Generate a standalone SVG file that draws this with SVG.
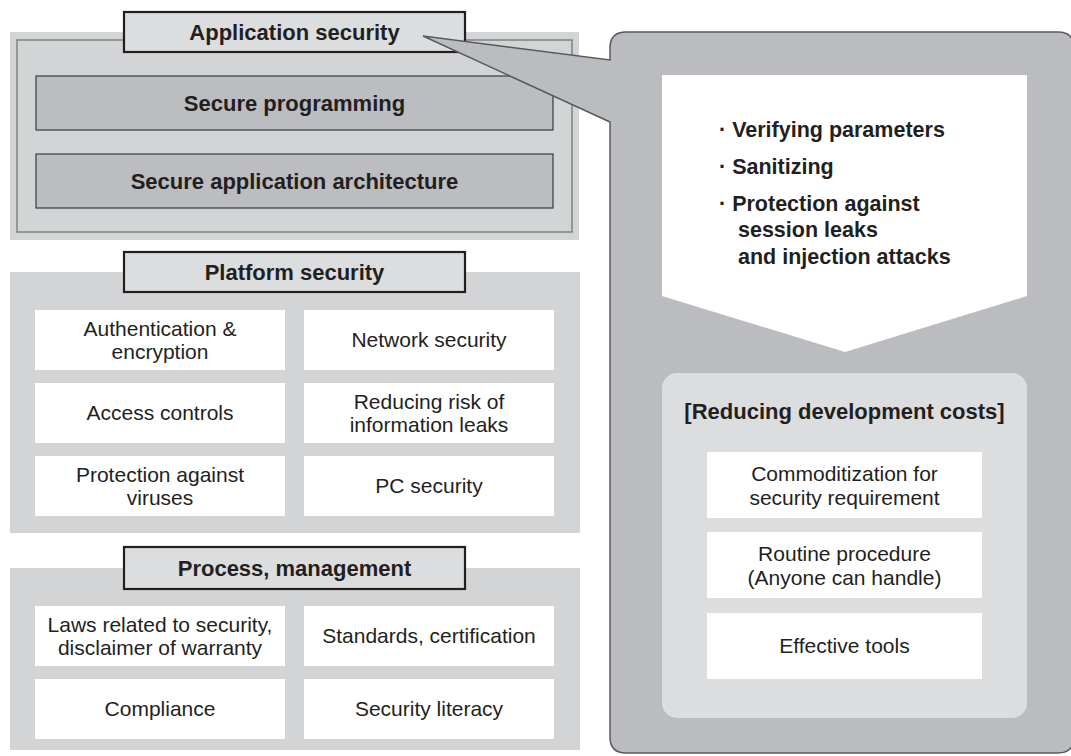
<svg xmlns="http://www.w3.org/2000/svg" width="1071" height="756" viewBox="0 0 1071 756">
<style>
text{font-family:"Liberation Sans",Arial,Helvetica,sans-serif;fill:#231f20;text-anchor:middle}
.b{font-weight:bold;font-size:22px}
.r{font-size:21px}
.bl{font-weight:bold;font-size:21.5px;text-anchor:start}
.band{fill:#d3d4d6}
.title{fill:#dcdddf;stroke:#231f20;stroke-width:2.2}
.dark{fill:#bcbdc0;stroke:#3a3a3a;stroke-width:1.2}
.cell{fill:#ffffff}
</style>
<rect width="1071" height="756" fill="#ffffff"/>

<g id="application-security">
<rect class="band" x="10" y="32" width="569" height="208"/>
<rect x="17" y="40" width="555" height="192" fill="#d3d4d6" stroke="#808080" stroke-width="1.5"/>
<g id="secure-programming">
<rect class="dark" x="36" y="76" width="517" height="54"/>
<text class="b" x="294.5" y="111">Secure programming</text>
</g>
<g id="secure-architecture">
<rect class="dark" x="36" y="154" width="517" height="54"/>
<text class="b" x="294.5" y="189">Secure application architecture</text>
</g>
<g id="app-title">
<rect class="title" x="124" y="12" width="341" height="40"/>
<text class="b" x="294.5" y="40">Application security</text>
</g>
</g>

<g id="platform-security">
<rect class="band" x="10" y="272" width="570" height="261"/>
<g id="platform-title">
<rect class="title" x="124" y="252" width="341" height="40"/>
<text class="b" x="294.5" y="280">Platform security</text>
</g>
<g id="auth">
<rect class="cell" x="35" y="310" width="250" height="60"/>
<text class="r" x="160" y="336">Authentication &amp;</text>
<text class="r" x="160" y="359">encryption</text>
</g>
<g id="network">
<rect class="cell" x="304" y="310" width="250" height="60"/>
<text class="r" x="429" y="347">Network security</text>
</g>
<g id="access">
<rect class="cell" x="35" y="383" width="250" height="60"/>
<text class="r" x="160" y="420">Access controls</text>
</g>
<g id="leaks">
<rect class="cell" x="304" y="383" width="250" height="60"/>
<text class="r" x="429" y="409">Reducing risk of</text>
<text class="r" x="429" y="432">information leaks</text>
</g>
<g id="viruses">
<rect class="cell" x="35" y="456" width="250" height="60"/>
<text class="r" x="160" y="482">Protection against</text>
<text class="r" x="160" y="505">viruses</text>
</g>
<g id="pc">
<rect class="cell" x="304" y="456" width="250" height="60"/>
<text class="r" x="429" y="493">PC security</text>
</g>
</g>

<g id="process-management">
<rect class="band" x="10" y="568" width="570" height="182"/>
<g id="process-title">
<rect class="title" x="124" y="547" width="341" height="42"/>
<text class="b" x="294.5" y="576">Process, management</text>
</g>
<g id="laws">
<rect class="cell" x="35" y="606" width="250" height="60"/>
<text class="r" x="160" y="632">Laws related to security,</text>
<text class="r" x="160" y="655">disclaimer of warranty</text>
</g>
<g id="standards">
<rect class="cell" x="304" y="606" width="250" height="60"/>
<text class="r" x="429" y="643">Standards, certification</text>
</g>
<g id="compliance">
<rect class="cell" x="35" y="679" width="250" height="60"/>
<text class="r" x="160" y="716">Compliance</text>
</g>
<g id="literacy">
<rect class="cell" x="304" y="679" width="250" height="60"/>
<text class="r" x="429" y="716">Security literacy</text>
</g>
</g>

<g id="connectors">
<path id="callout" d="M610,122 L423,36 L610,60 L610,48 Q610,32 626,32 L1058,32 Q1074,32 1074,48 L1074,737 Q1074,753 1058,753 L626,753 Q610,753 610,737 Z" fill="#bbbcbf" stroke="#58595b" stroke-width="1.5" stroke-linejoin="miter"/>
</g>

<g id="details">
<polygon points="662,75 1027,75 1027,296 845,352 662,296" fill="#ffffff"/>
<text class="bl" x="719" y="137">· Verifying parameters</text>
<text class="bl" x="719" y="174">· Sanitizing</text>
<text class="bl" x="719" y="211">· Protection against</text>
<text class="bl" x="738" y="237">session leaks</text>
<text class="bl" x="738" y="264">and injection attacks</text>
</g>

<g id="reducing-costs">
<rect x="662" y="373" width="365" height="345" rx="15" ry="15" fill="#dcdddf"/>
<text class="b" x="844.5" y="419">[Reducing development costs]</text>
<g id="commoditization">
<rect class="cell" x="707" y="452" width="275" height="66"/>
<text class="r" x="844.5" y="481">Commoditization for</text>
<text class="r" x="844.5" y="505">security requirement</text>
</g>
<g id="routine">
<rect class="cell" x="707" y="532" width="275" height="66"/>
<text class="r" x="844.5" y="561">Routine procedure</text>
<text class="r" x="844.5" y="585">(Anyone can handle)</text>
</g>
<g id="tools">
<rect class="cell" x="707" y="613" width="275" height="66"/>
<text class="r" x="844.5" y="653">Effective tools</text>
</g>
</g>
</svg>
